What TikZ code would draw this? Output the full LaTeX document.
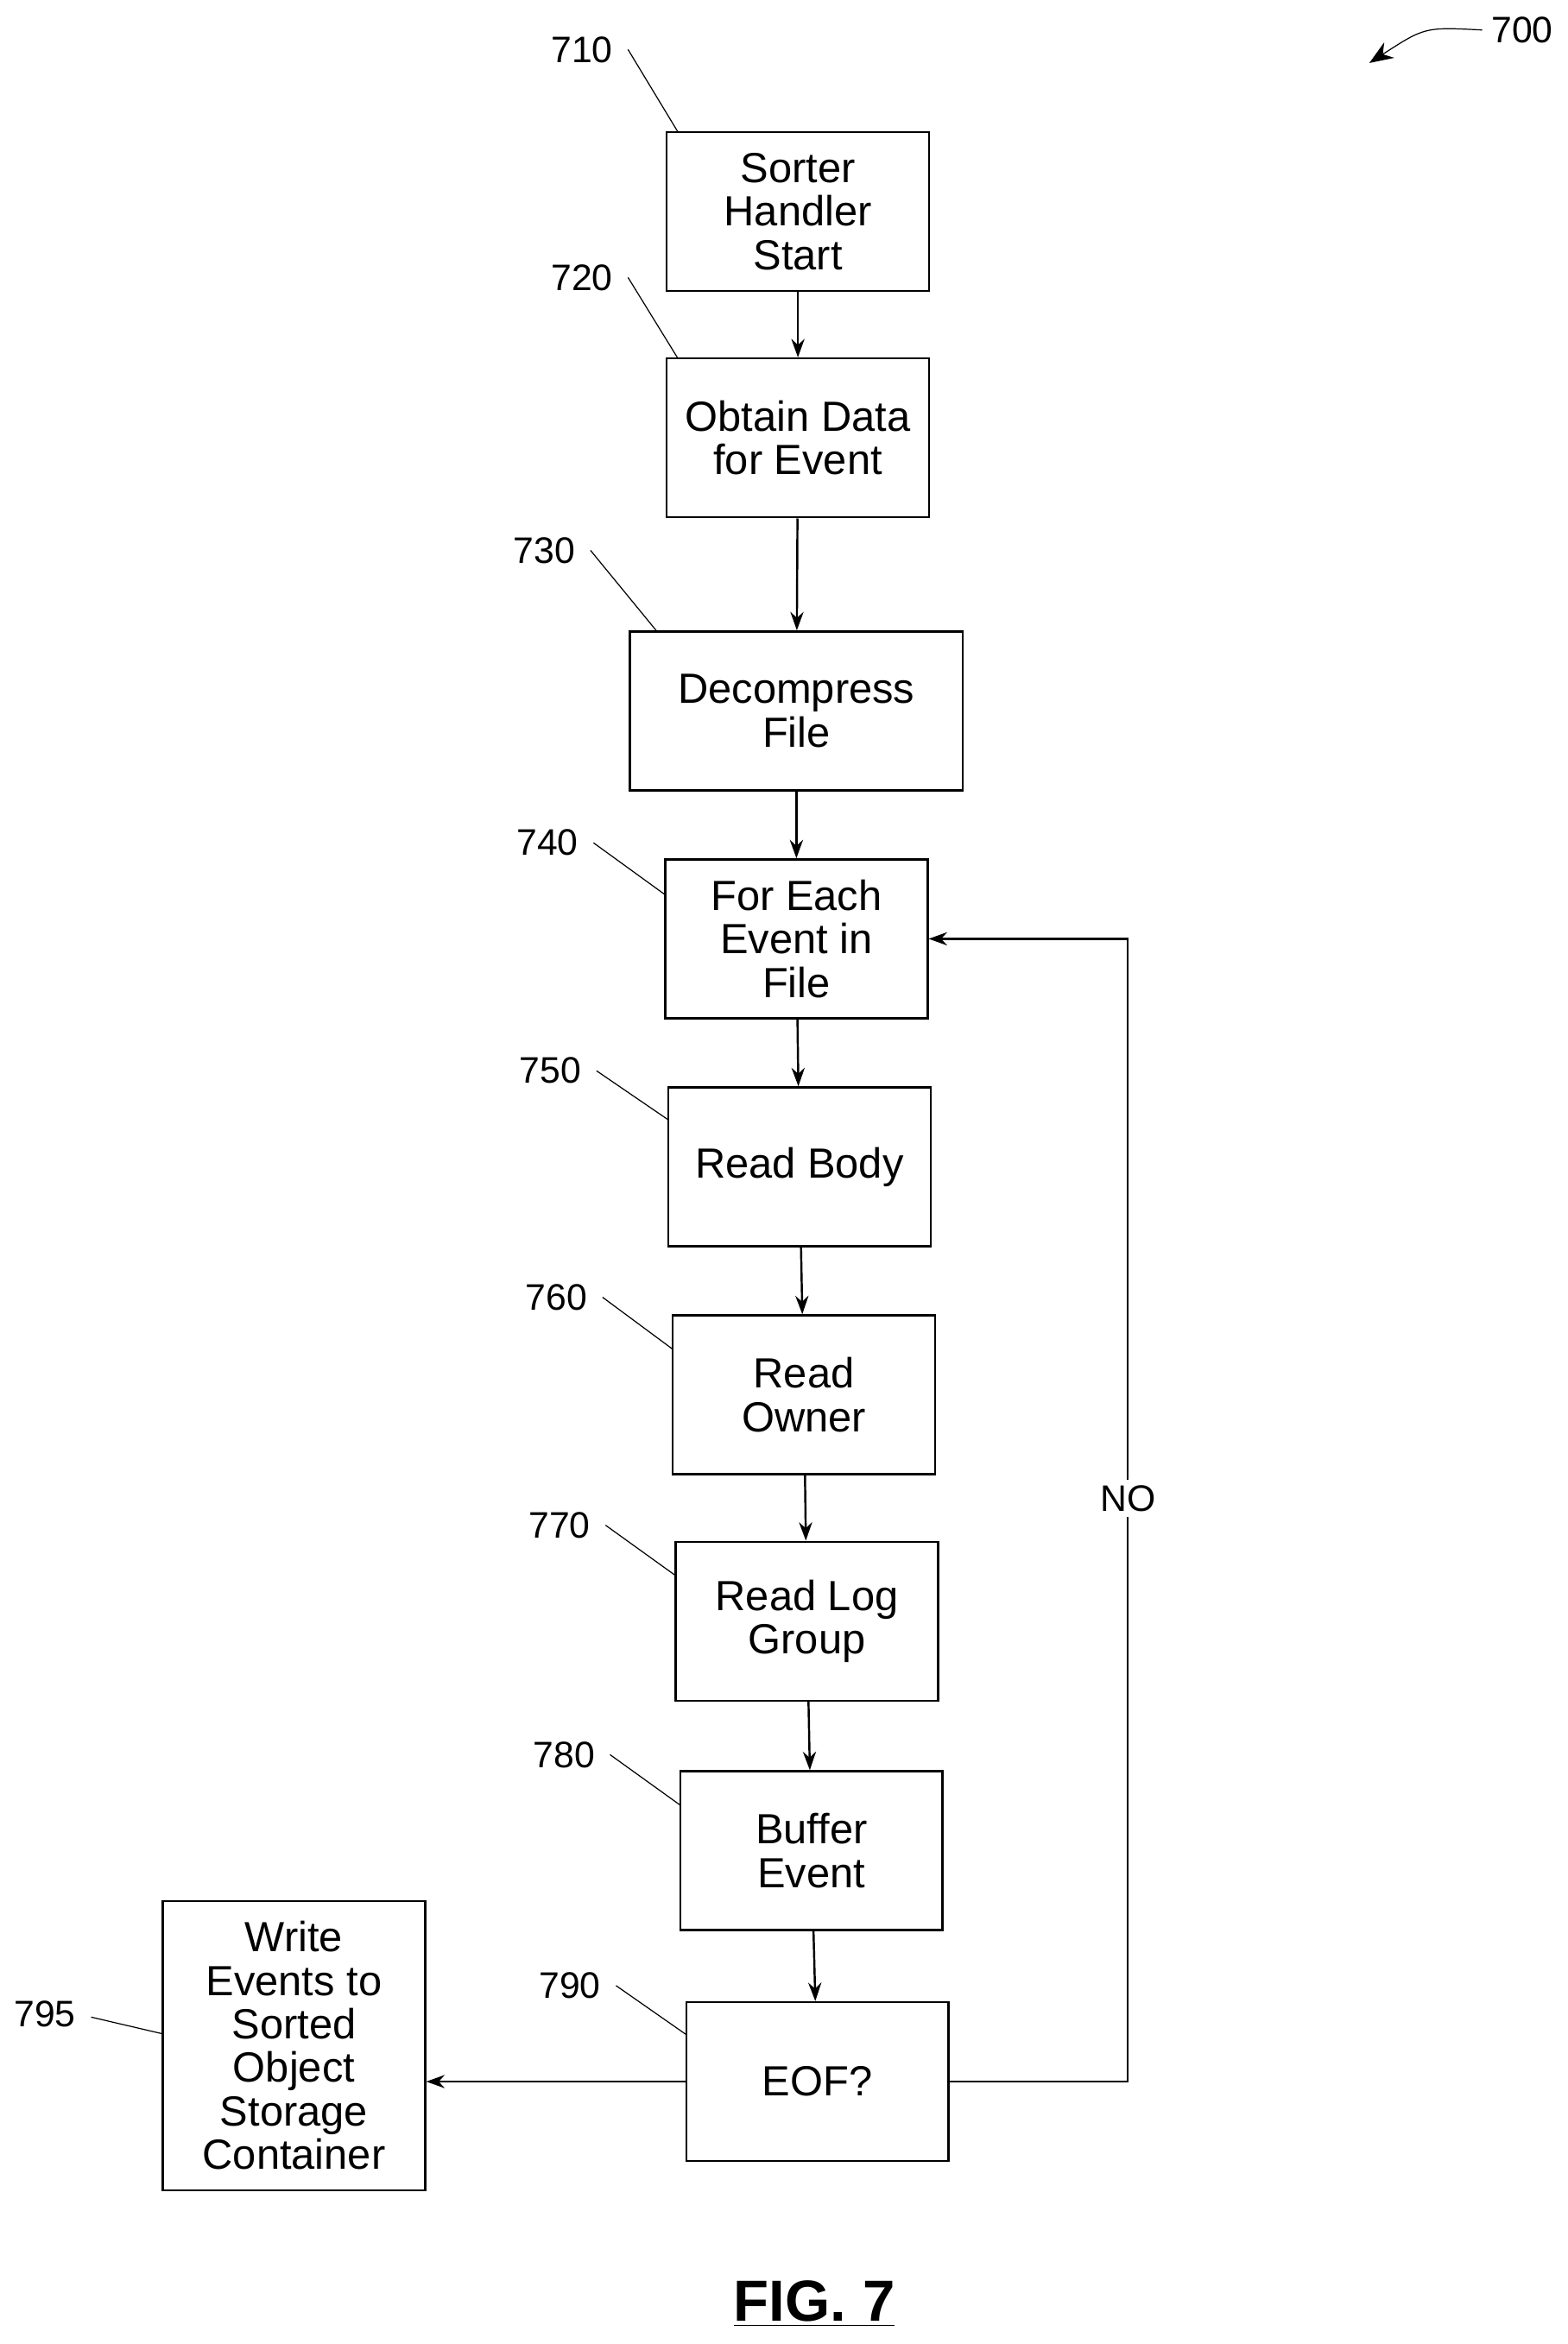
\documentclass[tikz,border=0pt]{standalone}
\usepackage{fontspec}
\setmainfont{Liberation Sans}
\usetikzlibrary{arrows.meta}

\tikzset{
  stepbox/.style={draw,thick,minimum width=3.5cm,minimum height=2.12cm,align=center,
    font=\fontsize{16}{16.5}\selectfont,inner sep=1pt},
  flow/.style={thick,-{Stealth[length=7pt,width=5pt]}},
  ref/.style={font=\fontsize{14}{14}\selectfont},
  lead/.style={thin}
}

\begin{document}
\begin{tikzpicture}[x=0.02cm,y=-0.02cm]
  \useasboundingbox (0,0) rectangle (1045,1563);

  % boxes
  \node[stepbox] (start) at (532,141) {Sorter\\Handler\\Start};
  \node[stepbox] (obtain) at (532,292) {Obtain Data\\for Event};
  \node[stepbox,minimum width=4.44cm] (decomp) at (531,474) {Decompress\\File};
  \node[stepbox] (each) at (531,626) {For Each\\Event in\\File};
  \node[stepbox] (body) at (533,778) {Read Body};
  \node[stepbox] (owner) at (536,930) {Read\\Owner};
  \node[stepbox] (group) at (538,1081) {Read Log\\Group};
  \node[stepbox] (buffer) at (541,1234) {Buffer\\Event};
  \node[stepbox] (eof) at (545,1388) {EOF?};
  \node[stepbox,minimum height=3.86cm] (write) at (196,1364) {Write\\Events to\\Sorted\\Object\\Storage\\Container};

  % connectors
  \draw[flow] (start) -- (obtain);
  \draw[flow] (obtain) -- (decomp);
  \draw[flow] (decomp) -- (each);
  \draw[flow] (each) -- (body);
  \draw[flow] (body) -- (owner);
  \draw[flow] (owner) -- (group);
  \draw[flow] (group) -- (buffer);
  \draw[flow] (buffer) -- (eof);
  \draw[flow] (eof.west) -- (write.east |- eof.west);
  \coordinate (loop) at (752,1388);
  \draw[flow] (eof.east) -- (loop) |- (each.east);
  \node[ref,fill=white,inner sep=2pt] (no) at (752,999) {NO};

  % reference numerals
  \foreach \n/\x/\y/\tx/\ty in {
      710/388/33/452/88, 720/388/185/452/239,
      730/363/367/438/421, 740/365/562/444/597,
      750/367/714/446/747, 760/371/865/449/900,
      770/373/1017/451/1051, 780/376/1170/454/1204,
      790/380/1324/458/1357} {
    \node[ref] (r\n) at (\x,\y) {\n};
    \coordinate (t\n) at (\tx,\ty);
    \path (r\n.east) ++(4,0) coordinate (s\n);
    \draw[lead] (s\n) -- (t\n);
  }
  \node[ref] (r795) at (30,1343) {795};
  \path (r795.east) ++(4,2) coordinate (s795);
  \draw[lead] (s795) -- (write.west |- 0,1356);

  \node[ref] (r700) at (1015,20) {700};
  \coordinate (a700) at (913,42);
  \draw[thin,-{Stealth[length=9pt,width=7pt]}] (r700.west) .. controls (950,18) .. (a700);

  \node[font=\bfseries\fontsize{22}{22}\selectfont] (fig) at (543,1536) {\underline{FIG. 7}};
\end{tikzpicture}
\end{document}
